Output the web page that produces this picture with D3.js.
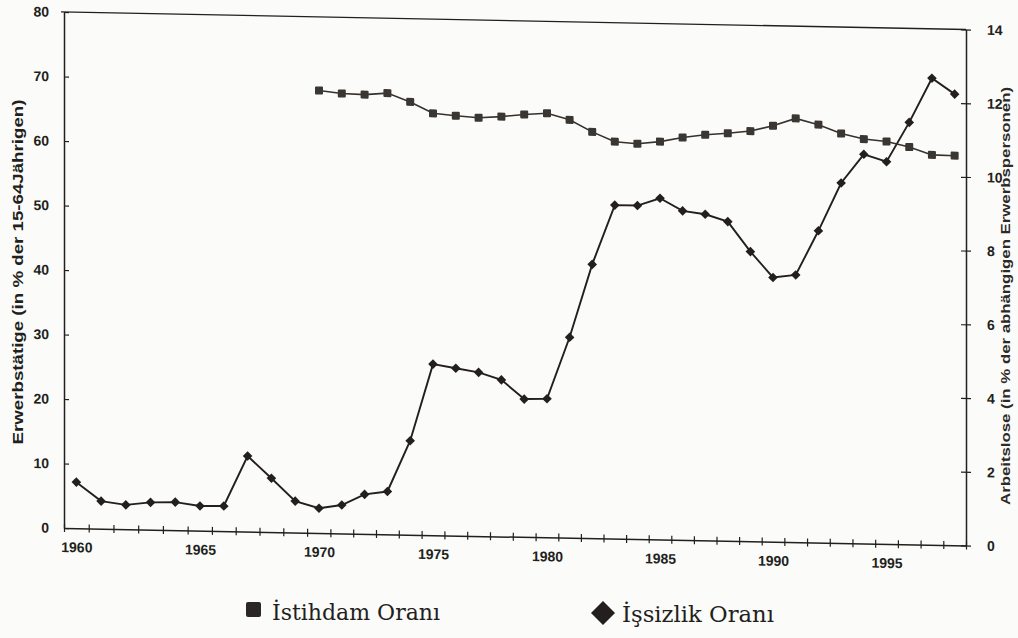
<!DOCTYPE html>
<html>
<head>
<meta charset="utf-8">
<script src="https://cdn.jsdelivr.net/npm/d3@7"></script>
<style>
  html, body { margin: 0; padding: 0; background: #fbfbf9; }
  svg { display: block; }
</style>
</head>
<body>
<svg id="chart" width="1018" height="638"></svg>
<script>
// ---- data ----
const years = d3.range(1960, 1999);
const unemploymentYears = years;
const unemploymentRate = [1.25, 0.75, 0.66, 0.74, 0.76, 0.67, 0.68, 2.05, 1.46, 0.85,
  0.67, 0.77, 1.07, 1.16, 2.55, 4.64, 4.54, 4.44, 4.25, 3.74,
  3.76, 5.44, 7.43, 9.05, 9.05, 9.26, 8.93, 8.85, 8.66, 7.86,
  7.17, 7.25, 8.46, 9.77, 10.56, 10.37, 11.45, 12.66, 12.24];
const employmentYears = d3.range(1970, 1999);
const employmentRate = [68.6, 68.2, 68.1, 68.4, 67.1, 65.4, 65.1, 64.85, 65.1, 65.5,
  65.75, 64.8, 63.0, 61.55, 61.3, 61.7, 62.4, 62.9, 63.2, 63.6,
  64.5, 65.7, 64.8, 63.5, 62.7, 62.4, 61.6, 60.45, 60.4];
const leftTicks = [0, 10, 20, 30, 40, 50, 60, 70, 80];
const rightTicks = [0, 2, 4, 6, 8, 10, 12, 14];
const yearLabels = [1960, 1965, 1970, 1975, 1980, 1985, 1990, 1995];
const leftTitle = "Erwerbstätige (in % der 15-64Jährigen)";
const rightTitle = "Arbeitslose (in % der abhängigen Erwerbspersonen)";
const legendLabels = ["İstihdam Oranı", "İşsizlik Oranı"];

// ---- layout ----
const svg = d3.select("#chart");
const X0 = 64, X1 = 966, YT = 12, YB = 528;
const skewDeg = 1.11;
const ink = "#221f1c";

// the scanned page is slightly warped, so the year axis is piecewise linear
const x = d3.scaleLinear()
  .domain([1959.5, 1965, 1970, 1980, 1990, 1998.5])
  .range([X0, 200, 319, 547, 773, X1]);
const yL = d3.scaleLinear().domain([0, 80]).range([YB, YT]);
const yR = d3.scaleLinear().domain([0, 14]).range([YB, YT]);

const g = svg.append("g")
  .attr("transform", `translate(${X0},0) skewY(${skewDeg}) translate(${-X0},0)`);

const tickFont = "bold 14px 'Liberation Sans', Arial, sans-serif";

// frame top line
g.append("line").attr("x1", X0 - 3).attr("x2", X1).attr("y1", YT).attr("y2", YT)
  .attr("stroke", ink).attr("stroke-width", 1.3);

// left axis
const leftAxis = g.append("g").attr("transform", `translate(${X0},0)`)
  .call(d3.axisLeft(yL).tickValues(leftTicks).tickSizeInner(5).tickSizeOuter(0).tickPadding(10));
leftAxis.selectAll(".tick line").attr("x2", 5);
// right axis
const rightAxis = g.append("g").attr("transform", `translate(${X1},0)`)
  .call(d3.axisRight(yR).tickValues(rightTicks).tickSizeInner(5).tickSizeOuter(0).tickPadding(16));
rightAxis.selectAll(".tick line").attr("x2", -5).attr("x1", 5);
// bottom axis: ticks at year boundaries
const bottomTicks = g.append("g").attr("transform", `translate(0,${YB})`)
  .call(d3.axisBottom(x).tickValues(d3.range(1959.5, 1999, 1)).tickSizeInner(4).tickSizeOuter(0).tickFormat(""));
bottomTicks.selectAll(".tick line").attr("y1", -4);
// bottom axis labels at year centres
const bottomLabels = g.append("g").attr("transform", `translate(0,${YB})`)
  .call(d3.axisBottom(x).tickValues(yearLabels).tickSize(0).tickPadding(14).tickFormat(d3.format("d")));
bottomLabels.select(".domain").remove();

[leftAxis, rightAxis, bottomTicks, bottomLabels].forEach(a => {
  a.selectAll("path.domain").attr("stroke", ink).attr("stroke-width", 1.5);
  a.selectAll(".tick line").attr("stroke", ink).attr("stroke-width", 1.2);
  a.selectAll("text").style("font", tickFont).attr("fill", ink);
});

// unemployment line (right axis)
const unemp = unemploymentYears.map((yr, i) => [yr, unemploymentRate[i]]);
g.append("path").datum(unemp)
  .attr("fill", "none").attr("stroke", ink).attr("stroke-width", 1.9)
  .attr("d", d3.line().x(d => x(d[0])).y(d => yR(d[1])));
g.append("g").selectAll("rect").data(unemp).join("rect")
  .attr("transform", d => `translate(${x(d[0])},${yR(d[1])}) rotate(45)`)
  .attr("x", -3.4).attr("y", -3.4).attr("width", 6.8).attr("height", 6.8)
  .attr("fill", ink);

// employment line (left axis)
const emp = employmentYears.map((yr, i) => [yr, employmentRate[i]]);
g.append("path").datum(emp)
  .attr("fill", "none").attr("stroke", "#35312d").attr("stroke-width", 1.6)
  .attr("d", d3.line().x(d => x(d[0])).y(d => yL(d[1])));
g.append("g").selectAll("rect").data(emp).join("rect")
  .attr("x", d => x(d[0]) - 4).attr("y", d => yL(d[1]) - 4)
  .attr("width", 8).attr("height", 8).attr("rx", 1)
  .attr("fill", "#3a3632");

// axis titles
svg.append("text")
  .attr("transform", "translate(23,272) rotate(-90)")
  .attr("text-anchor", "middle")
  .attr("textLength", 345).attr("lengthAdjust", "spacingAndGlyphs")
  .style("font", "bold 14px 'Liberation Sans', Arial, sans-serif")
  .attr("fill", ink).text(leftTitle);
svg.append("text")
  .attr("transform", "translate(1010,296) rotate(-90)")
  .attr("text-anchor", "middle")
  .attr("textLength", 418).attr("lengthAdjust", "spacingAndGlyphs")
  .style("font", "bold 13.5px 'Liberation Sans', Arial, sans-serif")
  .attr("fill", "#2c2926").text(rightTitle);

// legend
const legend = svg.append("g");
legend.append("rect").attr("x", 246).attr("y", 602).attr("width", 15).attr("height", 15)
  .attr("rx", 2).attr("fill", "#2a2724");
legend.append("text").attr("x", 272).attr("y", 620)
  .attr("textLength", 168).attr("lengthAdjust", "spacingAndGlyphs")
  .style("font", "23px 'DejaVu Serif', 'Liberation Serif', serif")
  .attr("fill", ink).text(legendLabels[0]);
legend.append("rect").attr("transform", "translate(603,613) rotate(45)")
  .attr("x", -8.5).attr("y", -8.5).attr("width", 17).attr("height", 17)
  .attr("fill", ink);
legend.append("text").attr("x", 622).attr("y", 622)
  .attr("textLength", 152).attr("lengthAdjust", "spacingAndGlyphs")
  .style("font", "23px 'DejaVu Serif', 'Liberation Serif', serif")
  .attr("fill", ink).text(legendLabels[1]);
</script>
</body>
</html>
